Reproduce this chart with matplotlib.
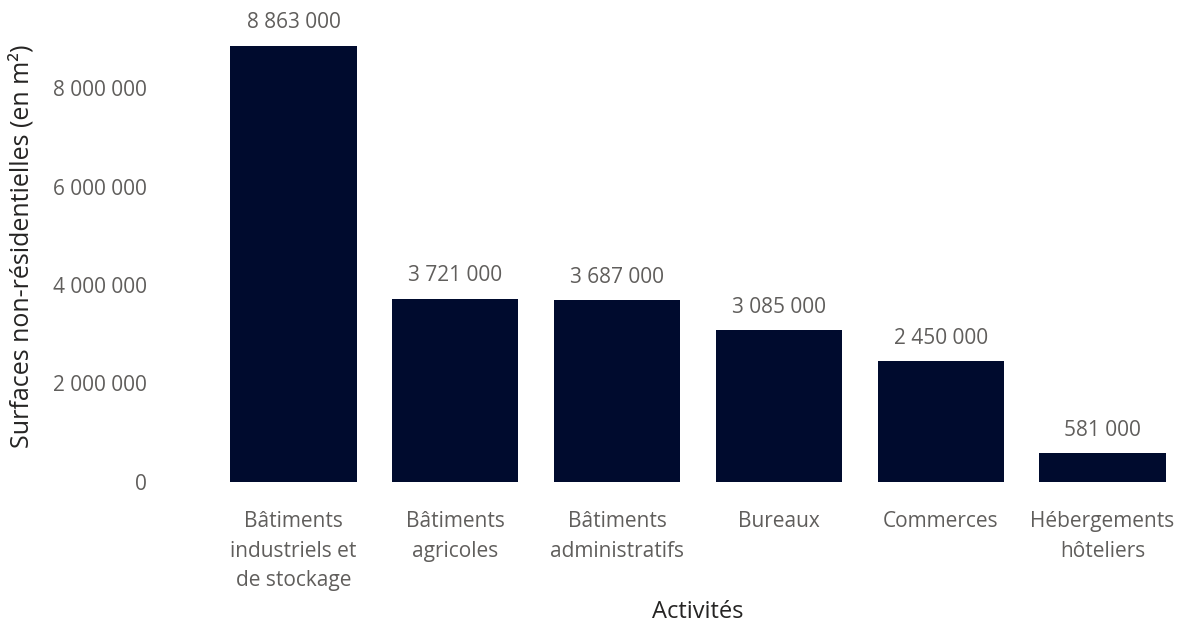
import matplotlib.pyplot as plt

plt.rcParams['font.family'] = ['Open Sans', 'DejaVu Sans']

activites = [
    "Bâtiments\nindustriels et\nde stockage",
    "Bâtiments\nagricoles",
    "Bâtiments\nadministratifs",
    "Bureaux",
    "Commerces",
    "Hébergements\nhôteliers",
]
surfaces = [8863000, 3721000, 3687000, 3085000, 2450000, 581000]
yticks = [0, 2000000, 4000000, 6000000, 8000000]

BAR = "#000B2E"
GREY = "#605E5C"
DARK = "#252423"


def fmt(v):
    return f"{v:,}".replace(",", " ")


fig = plt.figure(figsize=(11.85, 6.24), dpi=100)
ax = fig.add_axes([0.1794, 0.2276, 0.8192, 0.7260])

x = range(len(activites))
bars = ax.bar(x, surfaces, width=0.78, color=BAR)

for b, v in zip(bars, surfaces):
    ax.annotate(fmt(v), (b.get_x() + b.get_width() / 2, v),
                xytext=(0, 9), textcoords="offset points",
                ha="center", va="bottom", fontsize=15, color=GREY)

ax.set_xlim(-0.5, len(activites) - 0.5)
ax.set_ylim(0, 9.2e6)
ax.set_yticks(yticks)
ax.set_yticklabels([fmt(t) for t in yticks], fontsize=15, color=GREY)
ax.set_xticks(list(x))
ax.set_xticklabels(activites, fontsize=15, color=GREY, linespacing=1.53)
ax.tick_params(axis="both", length=0)
ax.tick_params(axis="y", pad=47)
ax.tick_params(axis="x", pad=21)

for s in ax.spines.values():
    s.set_visible(False)

ax.set_xlabel("Activités", fontsize=17, color=DARK)
ax.xaxis.set_label_coords(0.5, -0.26)
ax.set_ylabel("Surfaces non-résidentielles (en m²)", fontsize=18, color=DARK)
ax.yaxis.set_label_coords(-0.183, 0.52)

fig.savefig("out.png", dpi=100)
